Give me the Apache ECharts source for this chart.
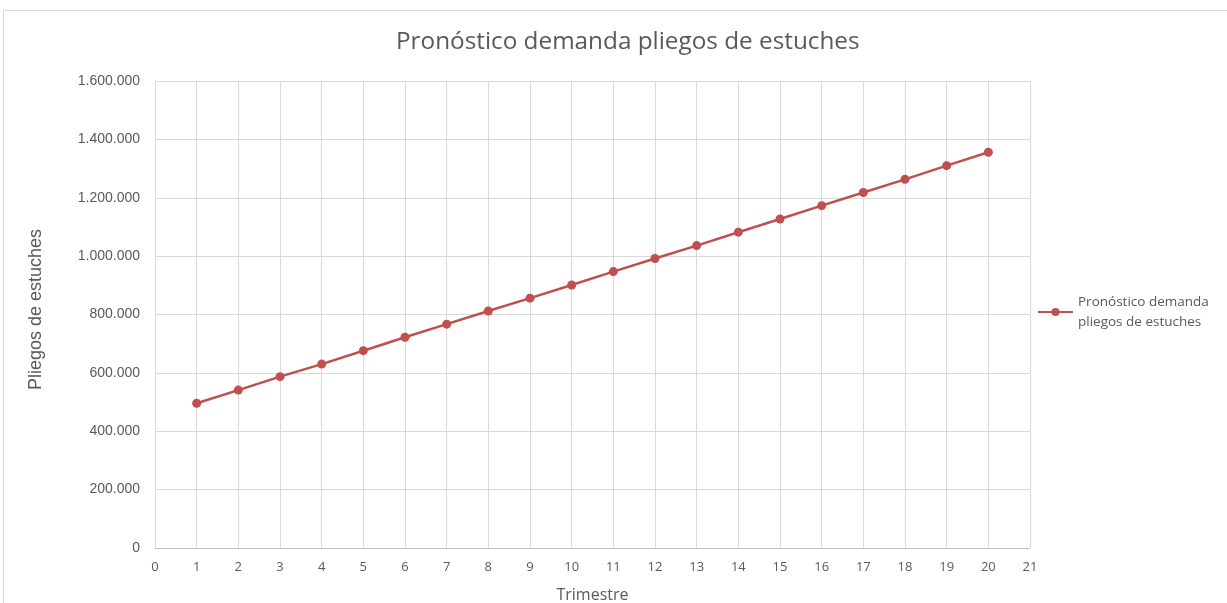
<!DOCTYPE html>
<html>
<head>
<meta charset="utf-8">
<script src="https://cdn.jsdelivr.net/npm/echarts@6/dist/echarts.min.js"></script>
<style>
  html, body { margin: 0; padding: 0; background: #fff; }
  #chart { width: 1227px; height: 603px; }
</style>
</head>
<body>
<div id="chart"></div>
<script>
// Quarterly forecast of carton sheets demand
const trimestres = [1, 2, 3, 4, 5, 6, 7, 8, 9, 10, 11, 12, 13, 14, 15, 16, 17, 18, 19, 20];
const demanda = [496000, 541000, 587000, 630000, 676000, 722000, 767000, 812000, 856000, 901000,
                 947000, 992000, 1036000, 1082000, 1127000, 1173000, 1218000, 1263000, 1310000, 1356000];
const seriesName = 'Pronóstico demanda pliegos de estuches';
const legendLabel = 'Pronóstico demanda\npliegos de estuches';

const font = '"Open Sans", "Liberation Sans", sans-serif';
const sans = '"Liberation Sans", Arial, sans-serif';
const grey = '#595959';

function miles(v) {
  return String(Math.round(v)).replace(/\B(?=(\d{3})+(?!\d))/g, '.');
}

const chart = echarts.init(document.getElementById('chart'), null, { renderer: 'canvas' });
chart.setOption({
  animation: false,
  backgroundColor: '#fff',
  textStyle: { fontFamily: font },
  graphic: [{
    type: 'rect',
    shape: { x: 3.5, y: 10.5, width: 1300, height: 700 },
    style: { fill: 'none', stroke: '#d9d9d9', lineWidth: 1 },
    silent: true
  }],
  title: {
    text: 'Pronóstico demanda pliegos de estuches',
    left: 391,
    top: 25,
    textStyle: { fontFamily: font, fontSize: 24.3, fontWeight: 'normal', color: grey }
  },
  legend: {
    orient: 'vertical',
    left: 1032,
    top: 287,
    itemWidth: 35,
    itemHeight: 10,
    formatter: () => legendLabel,
    textStyle: { fontFamily: font, fontSize: 13.5, color: grey, lineHeight: 20 },
    data: [seriesName]
  },
  grid: { left: 155, right: 197, top: 81, bottom: 55, containLabel: false, outerBoundsMode: 'none' },
  xAxis: {
    type: 'value',
    min: 0,
    max: 21,
    interval: 1,
    name: 'Trimestre',
    nameLocation: 'middle',
    nameGap: 39,
    nameTextStyle: { fontFamily: font, fontSize: 16, color: grey },
    axisLine: { show: true, lineStyle: { color: '#bfbfbf', width: 1 } },
    axisTick: { show: false },
    axisLabel: { color: grey, fontSize: 13, margin: 13, fontFamily: font },
    splitLine: { show: true, lineStyle: { color: '#d9d9d9', width: 1 } }
  },
  yAxis: {
    type: 'value',
    min: 0,
    max: 1600000,
    interval: 200000,
    name: 'Pliegos de estuches',
    nameLocation: 'middle',
    nameGap: 110,
    nameRotate: 90,
    nameTextStyle: { fontFamily: sans, fontSize: 18, color: grey, padding: [0, 0, 0, 10] },
    axisLine: { show: true, lineStyle: { color: '#d9d9d9', width: 1 } },
    axisTick: { show: false },
    axisLabel: { color: grey, fontSize: 14, margin: 15, fontFamily: sans, formatter: miles },
    splitLine: { show: true, lineStyle: { color: '#d9d9d9', width: 1 } }
  },
  series: [{
    name: seriesName,
    type: 'line',
    data: trimestres.map((t, i) => [t, demanda[i]]),
    symbol: 'circle',
    symbolSize: 9,
    itemStyle: { color: '#c0504d' },
    lineStyle: { color: '#c0504d', width: 2.5 }
  }]
});
</script>
</body>
</html>
